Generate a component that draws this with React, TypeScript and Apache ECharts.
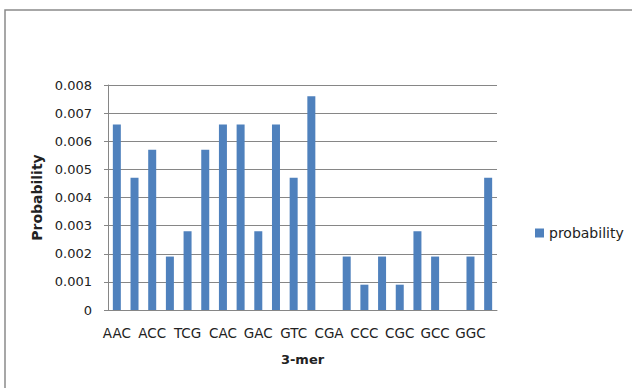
import React, { useEffect, useRef } from "react";
import * as echarts from "echarts";

const categories = [
  "AAC", "ATC", "ACC", "AGC", "TCG", "TGC", "CAC", "CTC", "GAC", "GGA", "GTC",
  "GCA", "CGA", "CTA", "CCC", "CCG", "CGC", "CAG", "GCC", "GCG", "GGC", "GTG",
];
const probability = [
  0.0066, 0.0047, 0.0057, 0.0019, 0.0028, 0.0057, 0.0066, 0.0066, 0.0028, 0.0066, 0.0047,
  0.0076, 0, 0.0019, 0.0009, 0.0019, 0.0009, 0.0028, 0.0019, 0, 0.0019, 0.0047,
];
const yTicks = { min: 0, max: 0.008, interval: 0.001 };

export default function App() {
  const ref = useRef<HTMLDivElement>(null);
  useEffect(() => {
    if (!ref.current) return;
    const chart = echarts.init(ref.current, undefined, { renderer: "svg" });
    const font = "DejaVu Sans";
    chart.setOption({
      animation: false,
      backgroundColor: "#ffffff",
      textStyle: { fontFamily: font },
      graphic: [
        {
          type: "rect",
          shape: { x: 5, y: 10, width: 800, height: 600 },
          style: { fill: "none", stroke: "#8a8a8a", lineWidth: 1.5 },
          silent: true,
        },
      ],
      grid: { left: 108, right: 135, top: 85, bottom: 78 },
      legend: {
        show: true,
        left: 530,
        top: 221,
        itemWidth: 9,
        itemHeight: 9,
        itemGap: 5,
        icon: "rect",
        textStyle: { fontFamily: font, fontSize: 14, color: "#222" },
        data: ["probability"],
      },
      xAxis: {
        type: "category",
        data: categories,
        name: "3-mer",
        nameLocation: "middle",
        nameGap: 43,
        nameTextStyle: { fontFamily: font, fontSize: 13, fontWeight: "bold", color: "#222" },
        axisLine: { lineStyle: { color: "#868686" } },
        axisTick: { show: false },
        axisLabel: { interval: 1, fontSize: 13.5, color: "#222", margin: 16, fontFamily: font },
      },
      yAxis: {
        type: "value",
        min: yTicks.min,
        max: yTicks.max,
        interval: yTicks.interval,
        name: "Probability",
        nameLocation: "middle",
        nameGap: 61,
        nameTextStyle: { fontFamily: font, fontSize: 14, fontWeight: "bold", color: "#222" },
        axisLine: { show: true, lineStyle: { color: "#868686" } },
        axisTick: { show: true, length: 4, lineStyle: { color: "#868686" } },
        axisLabel: {
          fontSize: 13,
          color: "#222",
          margin: 16,
          fontFamily: font,
          formatter: (v: number) => (v === 0 ? "0" : v.toFixed(3)),
        },
        splitLine: { lineStyle: { color: "#868686" } },
      },
      series: [
        {
          name: "probability",
          type: "bar",
          data: probability,
          barWidth: 8,
          itemStyle: { color: "#4F81BD" },
        },
      ],
    });
    return () => chart.dispose();
  }, []);
  return (
    <div
      ref={ref}
      style={{ position: "fixed", left: 0, top: 0, width: 632, height: 388 }}
    />
  );
}
